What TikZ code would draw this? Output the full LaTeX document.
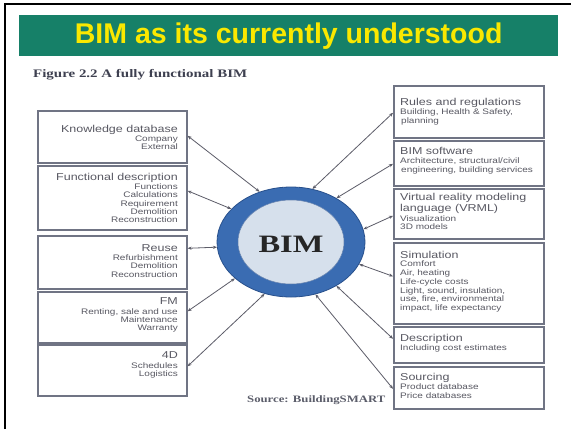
\documentclass[tikz,border=0pt]{standalone}
\usepackage{fontspec}
\setmainfont{Liberation Sans}
\newfontfamily\boxfont{Liberation Sans}[FakeStretch=1.25]
\newfontfamily\capfont{Liberation Serif}[FakeStretch=1.3]
\usetikzlibrary{arrows.meta,shapes.geometric}
\definecolor{banner}{RGB}{22,128,104}
\definecolor{titleyellow}{RGB}{250,232,0}
\definecolor{boxline}{RGB}{112,116,132}
\definecolor{boxtext}{RGB}{88,88,98}
\definecolor{conn}{RGB}{92,92,104}
\definecolor{ringblue}{RGB}{58,108,178}
\definecolor{ringdark}{RGB}{40,80,140}
\definecolor{core}{RGB}{214,224,236}
\definecolor{captext}{RGB}{62,64,80}
\newcommand{\bxtitle}{\fontsize{10}{11}\selectfont}
\tikzset{
  infobox/.style={draw=boxline, line width=1.6pt, fill=white, rectangle, inner sep=0pt, anchor=north west},
  lefttext/.style={anchor=north east, align=right, inner sep=0pt, text=boxtext, font=\boxfont\fontsize{8}{8.2}\selectfont},
  righttext/.style={anchor=north west, align=left, inner sep=0pt, text=boxtext, font=\boxfont\fontsize{8}{8.8}\selectfont},
  link/.style={draw=conn, line width=0.8pt, {Stealth[length=4pt,width=3.2pt,fill=black!80]}-{Stealth[length=4pt,width=3.2pt,fill=black!80]}}
}
\begin{document}
\begin{tikzpicture}[x=1pt,y=-1pt]
\useasboundingbox (0,0) rectangle (571,429);
\fill[white] (0,0) rectangle (571,429);
% frame (top and left)
\draw[black, line width=2.2pt] (5,429) -- (5,4) -- (571,4);
% banner
\node[fill=banner, minimum width=539pt, minimum height=41pt, inner sep=0pt, anchor=north west] (banner) at (19,15) {};
\node[text=titleyellow, font=\fontsize{28.5}{30}\selectfont\bfseries] (title) at (banner.center) {BIM as its currently understood};
% caption
\node[anchor=west, inner sep=0pt, text=captext, font=\capfont\bfseries\fontsize{11.5}{12}\selectfont] (caption) at (33,75) {Figure 2.2 A fully functional BIM};
% left boxes
\node[infobox, minimum width=149pt, minimum height=52pt] (kd) at (37,110) {};
\node[infobox, minimum width=149pt, minimum height=64pt] (fd) at (37,165) {};
\node[infobox, minimum width=149pt, minimum height=53pt] (re) at (37,235) {};
\node[infobox, minimum width=149pt, minimum height=51pt] (fm) at (37,291) {};
\node[infobox, minimum width=149pt, minimum height=51pt] (fd4) at (37,344) {};
\node[lefttext] (kdt) at (178,125) {{\bxtitle Knowledge database}\\[1pt] Company\\ External};
\node[lefttext] (fdt) at (178,173) {{\bxtitle Functional description}\\[1pt] Functions\\ Calculations\\ Requirement\\ Demolition\\ Reconstruction};
\node[lefttext] (ret) at (178,244) {{\bxtitle Reuse}\\[1.5pt] Refurbishment\\ Demolition\\ Reconstruction};
\node[lefttext] (fmt) at (178,297) {{\bxtitle FM}\\[2pt] Renting, sale and use\\ Maintenance\\ Warranty};
\node[lefttext] (fd4t) at (178,351) {{\bxtitle 4D}\\[2pt] Schedules\\ Logistics};
% right boxes
\node[infobox, minimum width=150pt, minimum height=52pt] (rr) at (393,85) {};
\node[infobox, minimum width=150pt, minimum height=45pt] (sw) at (393,140) {};
\node[infobox, minimum width=150pt, minimum height=50pt] (vr) at (393,188) {};
\node[infobox, minimum width=150pt, minimum height=81pt] (si) at (393,242) {};
\node[infobox, minimum width=150pt, minimum height=36pt] (de) at (393,326) {};
\node[infobox, minimum width=150pt, minimum height=42pt] (so) at (393,366) {};
\node[righttext] (rrt) at (400,98) {{\bxtitle Rules and regulations}\\[0pt] Building, Health \& Safety,\\ \hspace*{1pt}planning};
\node[righttext] (swt) at (400,147) {{\bxtitle BIM software}\\[0pt] Architecture, structural/civil\\ \hspace*{1pt}engineering, building services};
\node[righttext] (vrt) at (400,193) {{\bxtitle Virtual reality modeling}\\[1pt] {\bxtitle language (VRML)}\\[0.5pt] Visualization\\ 3D models};
\node[righttext] (sit) at (400,251) {{\bxtitle Simulation}\\[-0.5pt] Comfort\\ Air, heating\\ Life-cycle costs\\ Light, sound, insulation,\\ use, fire, environmental\\ impact, life expectancy};
\node[righttext] (det) at (400,334) {{\bxtitle Description}\\[0pt] Including cost estimates};
\node[righttext] (sot) at (400,373) {{\bxtitle Sourcing}\\[0.5pt] Product database\\ Price databases};
% BIM ellipse
\node[ellipse, fill=ringblue, draw=ringdark, line width=0.8pt, minimum width=148pt, minimum height=110pt, inner sep=0pt] (bim) at (291,242) {};
\node[ellipse, fill=core, draw=ringdark!70, line width=0.5pt, minimum width=106pt, minimum height=84pt, inner sep=0pt] (core) at (bim.center) {};
\node[text=black!85, font=\capfont\bfseries\fontsize{25}{25}\selectfont] (bimt) at (291,244) {BIM};
% connectors left
\draw[link] ([yshift=1pt]kd.east) -- (bim.122);
\draw[link] ([yshift=7pt]fd.east) -- (bim.151);
\draw[link] ([yshift=14pt]re.east) -- (bim.184);
\draw[link] ([yshift=6pt]fm.east) -- (bim.213);
\draw[link] ([yshift=4pt]fd4.east) -- (bim.243);
% connectors right
\draw[link] ([yshift=-1pt]rr.west) -- (bim.68);
\draw[link] ([yshift=-0.5pt]sw.west) -- (bim.44);
\draw[link] ([yshift=-2pt]vr.west) -- (bim.10);
\draw[link] ([yshift=7pt]si.west) -- (bim.-18);
\draw[link] ([yshift=6pt]de.west) -- (bim.-44);
\draw[link] ([yshift=-1pt]so.west) -- (bim.-65);
% source
\node[anchor=west, inner sep=0pt, text=captext!85, font=\capfont\bfseries\fontsize{9.8}{11}\selectfont] (src) at (247,400) {Source: BuildingSMART};
\end{tikzpicture}
\end{document}
